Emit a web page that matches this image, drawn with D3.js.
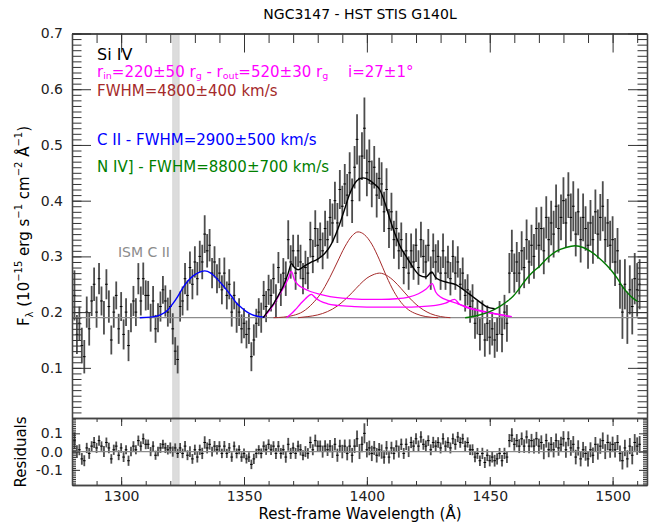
<!DOCTYPE html>
<html>
<head>
<meta charset="utf-8">
<script src="https://cdn.jsdelivr.net/npm/d3@7"></script>
<style>
  body { margin: 0; background: #fff; }
  svg text { font-family: "DejaVu Sans", sans-serif; }
</style>
</head>
<body>
<svg id="chart" width="650" height="524"></svg>
<script>
'use strict'

// spectrum, 1 A bins starting at 1281 A
const waveStart = 1281
const waveStep = 1

const flux = [
  0.23, 0.16, 0.18, 0.14, 0.12, 0.20, 0.17, 0.22, 0.25, 0.20,
  0.26, 0.22, 0.19, 0.25, 0.21, 0.15, 0.20, 0.23, 0.17, 0.21,
  0.16, 0.20, 0.14, 0.19, 0.22, 0.20, 0.26, 0.22, 0.26, 0.23,
  0.23, 0.19, 0.22, 0.17, 0.19, 0.21, 0.24, 0.22, 0.20, 0.21,
  0.17, 0.13, 0.115, 0.21, 0.22, 0.26, 0.23, 0.28, 0.25, 0.29,
  0.26, 0.30, 0.29, 0.34, 0.31, 0.32, 0.27, 0.29, 0.26, 0.27,
  0.24, 0.27, 0.23, 0.25, 0.20, 0.23, 0.19, 0.20, 0.17, 0.18,
  0.16, 0.17, 0.12, 0.15, 0.18, 0.20, 0.19, 0.23, 0.21, 0.24,
  0.23, 0.26, 0.22, 0.28, 0.24, 0.27, 0.26, 0.33, 0.29, 0.31,
  0.27, 0.31, 0.29, 0.26, 0.28, 0.27, 0.33, 0.30, 0.35, 0.32,
  0.33, 0.31, 0.35, 0.33, 0.37, 0.36, 0.40, 0.36, 0.42, 0.39,
  0.43, 0.41, 0.45, 0.40, 0.46, 0.51, 0.44, 0.48, 0.53, 0.45,
  0.47, 0.43, 0.46, 0.41, 0.44, 0.43, 0.38, 0.42, 0.35, 0.38,
  0.33, 0.35, 0.31, 0.33, 0.28, 0.31, 0.27, 0.31, 0.29, 0.32,
  0.28, 0.33, 0.30, 0.29, 0.32, 0.27, 0.31, 0.29, 0.30, 0.27,
  0.31, 0.27, 0.29, 0.26, 0.30, 0.27, 0.29, 0.25, 0.27, 0.23,
  0.24, 0.21, 0.22, 0.18, 0.19, 0.16, 0.19, 0.15, 0.18, 0.155,
  0.17, 0.15, 0.16, 0.19, 0.16, 0.20, 0.18, 0.27, 0.31, 0.27,
  0.29, 0.27, 0.31, 0.28, 0.33, 0.29, 0.32, 0.30, 0.35, 0.32,
  0.35, 0.31, 0.37, 0.33, 0.36, 0.34, 0.39, 0.35, 0.37, 0.40,
  0.36, 0.41, 0.37, 0.39, 0.34, 0.38, 0.33, 0.37, 0.35, 0.32,
  0.36, 0.33, 0.38, 0.34, 0.37, 0.39, 0.33, 0.36, 0.32, 0.33,
  0.29, 0.31, 0.25, 0.20, 0.25, 0.19, 0.24, 0.21, 0.26, 0.24, 0.25
]

const fluxErr = [
  0.045, 0.035, 0.030, 0.032, 0.030, 0.028, 0.030, 0.027, 0.030, 0.028,
  0.028, 0.026, 0.030, 0.027, 0.029, 0.026, 0.028, 0.025, 0.027, 0.026,
  0.027, 0.025, 0.028, 0.026, 0.027, 0.025, 0.028, 0.026, 0.029, 0.027,
  0.026, 0.025, 0.027, 0.025, 0.026, 0.027, 0.025, 0.028, 0.026, 0.030,
  0.028, 0.025, 0.025, 0.027, 0.026, 0.028, 0.027, 0.029, 0.027, 0.028,
  0.030, 0.028, 0.031, 0.034, 0.030, 0.029, 0.027, 0.028, 0.026, 0.027,
  0.026, 0.028, 0.025, 0.027, 0.026, 0.025, 0.027, 0.025, 0.026, 0.027,
  0.025, 0.027, 0.026, 0.028, 0.026, 0.025, 0.027, 0.026, 0.028, 0.027,
  0.029, 0.027, 0.030, 0.028, 0.029, 0.027, 0.031, 0.035, 0.030, 0.029,
  0.030, 0.029, 0.031, 0.028, 0.030, 0.029, 0.032, 0.030, 0.033, 0.031,
  0.031, 0.033, 0.032, 0.034, 0.033, 0.035, 0.034, 0.036, 0.035, 0.037,
  0.036, 0.038, 0.037, 0.040, 0.038, 0.045, 0.041, 0.043, 0.055, 0.042,
  0.040, 0.042, 0.038, 0.040, 0.037, 0.039, 0.036, 0.038, 0.035, 0.034,
  0.034, 0.032, 0.033, 0.031, 0.030, 0.032, 0.030, 0.031, 0.032, 0.030,
  0.031, 0.032, 0.030, 0.031, 0.029, 0.030, 0.031, 0.032, 0.029, 0.030,
  0.031, 0.030, 0.029, 0.030, 0.029, 0.030, 0.028, 0.029, 0.028, 0.029,
  0.028, 0.029, 0.030, 0.028, 0.030, 0.029, 0.031, 0.030, 0.032, 0.031,
  0.030, 0.032, 0.031, 0.030, 0.032, 0.031, 0.033, 0.036, 0.038, 0.035,
  0.036, 0.038, 0.035, 0.037, 0.036, 0.039, 0.037, 0.040, 0.038, 0.041,
  0.039, 0.042, 0.038, 0.041, 0.040, 0.042, 0.039, 0.043, 0.041, 0.042,
  0.044, 0.041, 0.043, 0.045, 0.040, 0.042, 0.041, 0.043, 0.040, 0.042,
  0.041, 0.043, 0.040, 0.044, 0.042, 0.045, 0.041, 0.043, 0.044, 0.042,
  0.043, 0.041, 0.044, 0.048, 0.045, 0.047, 0.044, 0.050, 0.046, 0.048, 0.045
]

const residuals = [
  0.06, 0.00, 0.01, -0.04, -0.05, 0.02, -0.01, 0.03, 0.05, 0.02,
  0.06, 0.03, 0.00, 0.05, 0.02, -0.04, 0.01, 0.03, -0.02, 0.02,
  -0.03, 0.01, -0.05, 0.00, 0.03, 0.01, 0.06, 0.03, 0.07, 0.04,
  0.04, 0.00, 0.03, -0.02, 0.00, 0.02, 0.04, 0.02, 0.01, 0.02,
  0.00, 0.02, -0.01, 0.02, -0.01, 0.03, -0.02, 0.00, -0.04, 0.01,
  -0.03, 0.01, -0.01, 0.05, 0.02, 0.04, 0.00, 0.03, 0.01, 0.03,
  -0.01, 0.03, -0.01, 0.02, -0.03, 0.03, -0.01, 0.01, -0.03, -0.01,
  -0.04, -0.03, -0.07, -0.04, -0.01, 0.01, -0.01, 0.03, 0.01, 0.04,
  0.01, 0.03, -0.01, 0.03, -0.01, 0.01, -0.03, 0.04, -0.01, 0.02,
  -0.01, 0.03, 0.01, -0.02, 0.00, -0.01, 0.05, 0.01, 0.06, 0.03,
  0.03, 0.00, 0.03, 0.01, 0.03, 0.00, 0.04, -0.02, 0.03, 0.00,
  0.03, -0.01, 0.03, -0.02, 0.03, 0.07, 0.00, 0.04, 0.10, 0.01,
  0.02, -0.01, 0.02, -0.02, 0.01, 0.00, -0.03, 0.02, -0.03, 0.02,
  -0.01, 0.03, 0.00, 0.04, -0.01, 0.04, 0.00, 0.05, 0.03, 0.07,
  0.03, 0.08, 0.04, 0.03, 0.06, 0.01, 0.05, 0.03, 0.05, 0.02,
  0.07, 0.03, 0.05, 0.02, 0.07, 0.04, 0.08, 0.05, 0.07, 0.03,
  0.05, 0.01, 0.01, -0.03, -0.01, -0.05, -0.01, -0.06, -0.02, -0.05,
  -0.03, -0.05, -0.04, -0.01, -0.05, -0.01, -0.03, 0.06, 0.09, 0.04,
  0.06, 0.03, 0.07, 0.03, 0.08, 0.03, 0.06, 0.03, 0.07, 0.03,
  0.05, 0.00, 0.06, 0.01, 0.04, 0.01, 0.06, 0.02, 0.04, 0.07,
  0.01, 0.07, 0.02, 0.04, -0.03, 0.02, -0.04, 0.01, -0.01, -0.04,
  0.01, -0.02, 0.04, 0.00, 0.03, 0.06, 0.00, 0.05, 0.01, 0.04,
  0.01, 0.05, -0.01, -0.05, 0.02, -0.04, 0.03, -0.02, 0.05, 0.03, 0.04
]

// fitted components, [wavelength, flux]
const continuum = [[1280, 0.19], [1514, 0.19]]

const ciiFit = [
  [1307.6, 0.190], [1312, 0.191], [1316, 0.195], [1319, 0.204], [1321.2, 0.216],
  [1323, 0.228], [1325.3, 0.245], [1327, 0.255], [1329.3, 0.265], [1331.5, 0.271],
  [1334, 0.274], [1336.5, 0.270], [1338.8, 0.261], [1341, 0.250], [1342.9, 0.240],
  [1345, 0.228], [1347, 0.216], [1349, 0.208], [1351, 0.201], [1353, 0.196],
  [1355, 0.193], [1358.5, 0.191]
]

const nivFit = [
  [1440, 0.190], [1445, 0.194], [1450, 0.201], [1454, 0.210], [1457, 0.219],
  [1459.4, 0.228], [1462, 0.242], [1465, 0.260], [1467.5, 0.272], [1470.2, 0.282],
  [1473.5, 0.297], [1477, 0.309], [1481, 0.316], [1484.8, 0.319], [1488, 0.316],
  [1491, 0.309], [1494, 0.299], [1497.4, 0.285], [1500, 0.272], [1502, 0.260],
  [1504, 0.246], [1506, 0.235], [1508, 0.226], [1510.2, 0.219]
]

const siivBroadA = [
  [1362, 0.190], [1366, 0.191], [1370, 0.194], [1374, 0.201], [1378, 0.216],
  [1381, 0.232], [1384.9, 0.262], [1388, 0.290], [1391, 0.317], [1394, 0.337],
  [1396.4, 0.344], [1399, 0.339], [1402, 0.322], [1405, 0.295], [1408, 0.264],
  [1411, 0.237], [1414, 0.217], [1417, 0.204], [1420, 0.197], [1424, 0.192],
  [1429, 0.190]
]

const siivBroadB = [
  [1372, 0.190], [1376, 0.192], [1380, 0.195], [1384, 0.201], [1388, 0.211],
  [1391, 0.222], [1394, 0.235], [1397, 0.249], [1400, 0.261], [1402.5, 0.267],
  [1405.2, 0.270], [1408, 0.266], [1411, 0.256], [1414, 0.242], [1417, 0.227],
  [1420, 0.214], [1423, 0.204], [1426, 0.197], [1430, 0.192], [1434, 0.190]
]

const siivDiskA = [
  [1357.8, 0.190], [1360, 0.201], [1362, 0.213], [1364, 0.228], [1366, 0.243],
  [1368, 0.260], [1369.3, 0.273], [1370.5, 0.258], [1372, 0.249], [1374, 0.243],
  [1377, 0.237], [1381, 0.232], [1385, 0.228], [1390, 0.225], [1398, 0.223],
  [1406, 0.223], [1412, 0.224], [1417, 0.227], [1421, 0.233], [1424, 0.241],
  [1426.6, 0.251], [1428, 0.236], [1430, 0.227], [1433, 0.221], [1437, 0.215],
  [1441, 0.209], [1445, 0.204], [1450, 0.199], [1455, 0.195], [1458, 0.192]
]

const siivDiskB = [
  [1367.3, 0.190], [1369, 0.196], [1371, 0.205], [1373, 0.215], [1375, 0.224],
  [1377.4, 0.232], [1379, 0.226], [1381, 0.220], [1384, 0.215], [1388, 0.212],
  [1395, 0.210], [1405, 0.209], [1415, 0.209], [1422, 0.210], [1428, 0.212],
  [1432, 0.216], [1435.7, 0.223], [1437.5, 0.215], [1440, 0.209], [1444, 0.204],
  [1448, 0.200], [1452, 0.197], [1456, 0.194], [1459, 0.192]
]

const totalFit = [
  [1357.8, 0.190], [1360, 0.203], [1362, 0.215], [1364, 0.230], [1366, 0.247],
  [1368, 0.270], [1369.3, 0.287], [1370.5, 0.280], [1372, 0.276], [1374, 0.281],
  [1377, 0.289], [1380, 0.295], [1383, 0.306], [1385, 0.318], [1388, 0.347],
  [1390.3, 0.376], [1393, 0.412], [1396, 0.436], [1398.4, 0.441], [1401, 0.437],
  [1403, 0.430], [1405.2, 0.420], [1407.5, 0.394], [1409.3, 0.368], [1412, 0.334],
  [1414, 0.314], [1416, 0.300], [1419, 0.279], [1421.5, 0.266], [1424, 0.263],
  [1426.4, 0.272], [1428, 0.262], [1430, 0.257], [1433, 0.253], [1436.4, 0.249],
  [1440, 0.238], [1443, 0.228], [1446, 0.218], [1448.6, 0.210], [1452, 0.206]
]

const ismBand = [1321, 1323.6]

const xMajor = [1300, 1350, 1400, 1450, 1500]
const yMajor = [0.1, 0.2, 0.3, 0.4, 0.5, 0.6, 0.7]
const rMajor = [-0.1, 0.0, 0.1]

const svg = d3.select('#chart')

const left = 72, right = 647
const mainTop = 33.5, mainBottom = 418, resBottom = 485

const x = d3.scaleLinear().domain([1280, 1514]).range([left, right])
const y = d3.scaleLinear().domain([0.01, 0.7]).range([mainBottom, mainTop])
const yr = d3.scaleLinear().domain([-0.183, 0.184]).range([resBottom, mainBottom])

const xMinor = d3.range(1280, 1515, 10)
const yMinor = d3.range(0.01, 0.7001, 0.01)
const rMinor = d3.range(-0.18, 0.1801, 0.01)

const pts = flux.map((f, i) => ({
  w: waveStart + i * waveStep, f: f, e: fluxErr[i], r: residuals[i]
}))

svg.append('defs').append('clipPath').attr('id', 'clipMain')
  .append('rect').attr('x', left).attr('y', mainTop)
  .attr('width', right - left).attr('height', mainBottom - mainTop)

// ISM band in both panels
for (const [t, b] of [[mainTop, mainBottom], [mainBottom, resBottom]]) {
  svg.append('rect')
    .attr('x', x(ismBand[0])).attr('y', t)
    .attr('width', x(ismBand[1]) - x(ismBand[0])).attr('height', b - t)
    .attr('fill', '#dcdcdc').attr('stroke', '#cfcfcf').attr('stroke-width', 0.6)
}

function drawPoints (g, yScale, key) {
  g.selectAll('line.err')
    .data(pts)
    .enter().append('line')
      .attr('class', 'err')
      .attr('x1', d => x(d.w)).attr('x2', d => x(d.w))
      .attr('y1', d => yScale(d[key] - d.e))
      .attr('y2', d => yScale(d[key] + d.e))
      .attr('stroke', '#4d4d4d')
      .attr('stroke-width', 1.8)
  g.selectAll('line.val')
    .data(pts)
    .enter().append('line')
      .attr('class', 'val')
      .attr('x1', d => x(d.w - 0.55)).attr('x2', d => x(d.w + 0.55))
      .attr('y1', d => yScale(d[key])).attr('y2', d => yScale(d[key]))
      .attr('stroke', '#000')
      .attr('stroke-width', 1)
}

const main = svg.append('g').attr('clip-path', 'url(#clipMain)')
drawPoints(main, y, 'f')

const line = d3.line().x(d => x(d[0])).y(d => y(d[1])).curve(d3.curveMonotoneX)

main.append('path').attr('d', line(continuum))
  .attr('fill', 'none').attr('stroke', '#8c8c8c').attr('stroke-width', 1.2)

const comps = [
  [siivBroadA, '#a52a2a', 1], [siivBroadB, '#a52a2a', 1],
  [siivDiskA, '#ff00ff', 1.3], [siivDiskB, '#ff00ff', 1.3],
  [ciiFit, '#0000ff', 1.4], [nivFit, '#007a00', 1.4], [totalFit, '#000', 1.4]
]
comps.forEach(([d, c, w]) => {
  main.append('path').attr('d', line(d))
    .attr('fill', 'none').attr('stroke', c).attr('stroke-width', w)
})

// residual panel
const res = svg.append('g')
drawPoints(res, yr, 'r')
res.append('line')
  .attr('x1', x(1280)).attr('x2', x(1514))
  .attr('y1', yr(0)).attr('y2', yr(0))
  .attr('stroke', '#8c8c8c').attr('stroke-width', 1.2)

// axes
function axis (gen, tx, ty, values, size, labels) {
  const g = svg.append('g').attr('transform', `translate(${tx},${ty})`)
    .call(gen.tickValues(values).tickSize(size).tickSizeOuter(0)
      .tickPadding(9).tickFormat(labels ? (d => d.toFixed(labels === 'x' ? 0 : 1)) : ''))
  g.selectAll('.tick line').attr('stroke', '#333')
  g.select('.domain').attr('stroke', '#444').attr('stroke-width', 1.3)
  g.selectAll('text').attr('font-size', 14).attr('fill', '#222')
    .attr('font-family', '"DejaVu Sans", sans-serif')
  return g
}

// main panel
axis(d3.axisTop(x), 0, mainTop, xMinor, -9.5)
axis(d3.axisTop(x), 0, mainTop, xMajor, -19)
axis(d3.axisLeft(y), left, 0, yMinor, -9.5)
axis(d3.axisLeft(y), left, 0, yMajor, -19, 'y')
axis(d3.axisRight(y), right, 0, yMinor, -9.5)
axis(d3.axisRight(y), right, 0, yMajor, -19)

// residual panel
axis(d3.axisTop(x), 0, mainBottom, xMinor, -4)
axis(d3.axisTop(x), 0, mainBottom, xMajor, -8)
axis(d3.axisBottom(x), 0, resBottom, xMinor, -4)
axis(d3.axisBottom(x), 0, resBottom, xMajor, -8, 'x').selectAll('text').attr('y', 6)
axis(d3.axisLeft(yr), left, 0, rMinor, -4)
axis(d3.axisLeft(yr), left, 0, rMajor, -8, 'y')
axis(d3.axisRight(yr), right, 0, rMinor, -4)
axis(d3.axisRight(yr), right, 0, rMajor, -8)

// texts
svg.append('text').attr('x', 360).attr('y', 19).attr('text-anchor', 'middle')
  .attr('font-size', 14).text('NGC3147 - HST STIS G140L')

svg.append('text').attr('x', 360).attr('y', 519).attr('text-anchor', 'middle')
  .attr('font-size', 15).text('Rest-frame Wavelength (Å)')

const yl = svg.append('text').attr('transform', 'translate(29,226) rotate(-90)')
  .attr('text-anchor', 'middle').attr('font-size', 15)
yl.append('tspan').text('F')
yl.append('tspan').attr('font-size', 10).attr('dy', 4).text('λ')
yl.append('tspan').attr('dy', -4).text(' (10')
yl.append('tspan').attr('font-size', 10).attr('dy', -7).text('−15')
yl.append('tspan').attr('dy', 7).text(' erg s')
yl.append('tspan').attr('font-size', 10).attr('dy', -7).text('−1')
yl.append('tspan').attr('dy', 7).text(' cm')
yl.append('tspan').attr('font-size', 10).attr('dy', -7).text('−2')
yl.append('tspan').attr('dy', 7).text(' Å')
yl.append('tspan').attr('font-size', 10).attr('dy', -7).text('−1')
yl.append('tspan').attr('dy', 7).text(')')

svg.append('text').attr('transform', 'translate(26,452) rotate(-90)')
  .attr('text-anchor', 'middle').attr('font-size', 15).text('Residuals')

svg.append('text').attr('x', 97).attr('y', 60).attr('font-size', 16).text('Si IV')

const mg = svg.append('text').attr('x', 97).attr('y', 77)
  .attr('font-size', 15).attr('fill', '#ff00ff')
mg.append('tspan').text('r')
mg.append('tspan').attr('font-size', 9.5).attr('dy', 2).text('in')
mg.append('tspan').attr('dy', -2).text('=220±50 r')
mg.append('tspan').attr('font-size', 9.5).attr('dy', 2).text('g')
mg.append('tspan').attr('dy', -2).text(' - r')
mg.append('tspan').attr('font-size', 9.5).attr('dy', 2).text('out')
mg.append('tspan').attr('dy', -2).text('=520±30 r')
mg.append('tspan').attr('font-size', 9.5).attr('dy', 2).text('g')
svg.append('text').attr('x', 348).attr('y', 77)
  .attr('font-size', 15).attr('fill', '#ff00ff').text('i=27±1°')

svg.append('text').attr('x', 97).attr('y', 96).attr('font-size', 15)
  .attr('fill', '#a52a2a').text('FWHM=4800±400 km/s')
svg.append('text').attr('x', 97).attr('y', 145).attr('font-size', 15)
  .attr('fill', '#0000ff').text('C II - FWHM=2900±500 km/s')
svg.append('text').attr('x', 97).attr('y', 172).attr('font-size', 15)
  .attr('fill', '#008000').text('N IV] - FWHM=8800±700 km/s')

svg.append('text').attr('x', 170).attr('y', 257).attr('text-anchor', 'end')
  .attr('font-size', 14).attr('fill', '#8c8c8c').text('ISM C II')
</script>
</body>
</html>
